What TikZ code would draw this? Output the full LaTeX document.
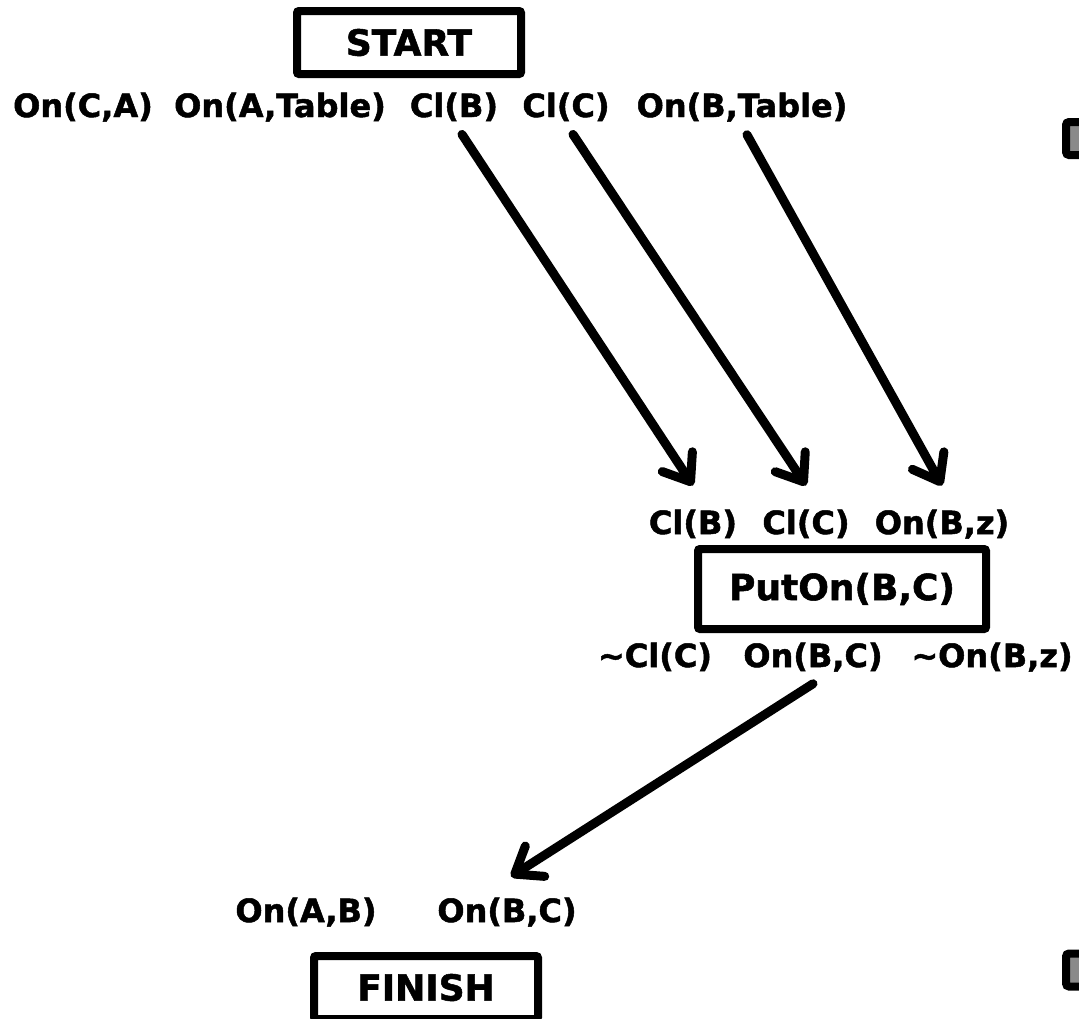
\documentclass[tikz,border=0pt]{standalone}
\usepackage{fontspec}
\setmainfont{DejaVu Sans}[BoldFeatures={FakeBold=1.5}]
\usetikzlibrary{arrows.meta}
\definecolor{SideGray}{HTML}{8A8A8A}
\tikzset{
  stepbox/.style={draw, line width=8pt, rounded corners=2pt, inner sep=0pt, font=\fontsize{36}{40}\selectfont\bfseries},
  cond/.style={anchor=base, inner sep=2pt, font=\fontsize{32}{36}\selectfont\bfseries},
  sidebox/.style={draw, fill=SideGray, line width=8pt, rounded corners=3pt, minimum width=38pt, minimum height=33pt, inner sep=0pt},
  link/.style={-{Straight Barb[length=24pt, width=36pt, line cap=round, line join=round]}, line width=9pt, line cap=round}
}

\begin{document}
\begin{tikzpicture}[x=1pt, y=-1pt]
    \useasboundingbox (0,0) rectangle (1079,1018);
    \clip (0,0) rectangle (1079,1018);

    % steps
    \node[stepbox, minimum width=224pt, minimum height=63pt] (start) at (409,42.5) {START};
    \node[stepbox, minimum width=288pt, minimum height=80pt] (puton) at (842,589) {PutOn(B,C)};
    \node[stepbox, minimum width=224pt, minimum height=63pt] (finish) at (426,987.5) {FINISH};

    % effects of START
    \node[cond] (s1) at (83,117) {On(C,A)};
    \node[cond] (s2) at (280,117) {On(A,Table)};
    \node[cond] (s3) at (454,117) {Cl(B)};
    \node[cond] (s4) at (566,117) {Cl(C)};
    \node[cond] (s5) at (742,117) {On(B,Table)};

    % preconditions and effects of PutOn(B,C)
    \node[cond] (p1) at (693,534) {Cl(B)};
    \node[cond] (p2) at (806,534) {Cl(C)};
    \node[cond] (p3) at (942,534) {On(B,z)};
    \node[cond] (e1) at (655,667) {\textasciitilde Cl(C)};
    \node[cond] (e2) at (813,667) {On(B,C)};
    \node[cond] (e3) at (992,667) {\textasciitilde On(B,z)};

    % goals of FINISH
    \node[cond] (f1) at (306,922) {On(A,B)};
    \node[cond] (f2) at (507,922) {On(B,C)};

    % pieces at the right edge
    \node[sidebox] (sidetop) at (1085,138.5) {};
    \node[sidebox] (sidebot) at (1085,970) {};

    \draw[link] ([xshift=8pt, yshift=-11pt]s3.south) -- ([yshift=22pt]p1.north);
    \draw[link] ([xshift=7pt, yshift=-11pt]s4.south) -- ([yshift=22pt]p2.north);
    \draw[link] ([xshift=5pt, yshift=-11pt]s5.south) -- ([yshift=22pt]p3.north);
    \draw[link] ([yshift=-10pt]e2.south) -- ([xshift=4pt, yshift=19pt]f2.north);
\end{tikzpicture}
\end{document}
